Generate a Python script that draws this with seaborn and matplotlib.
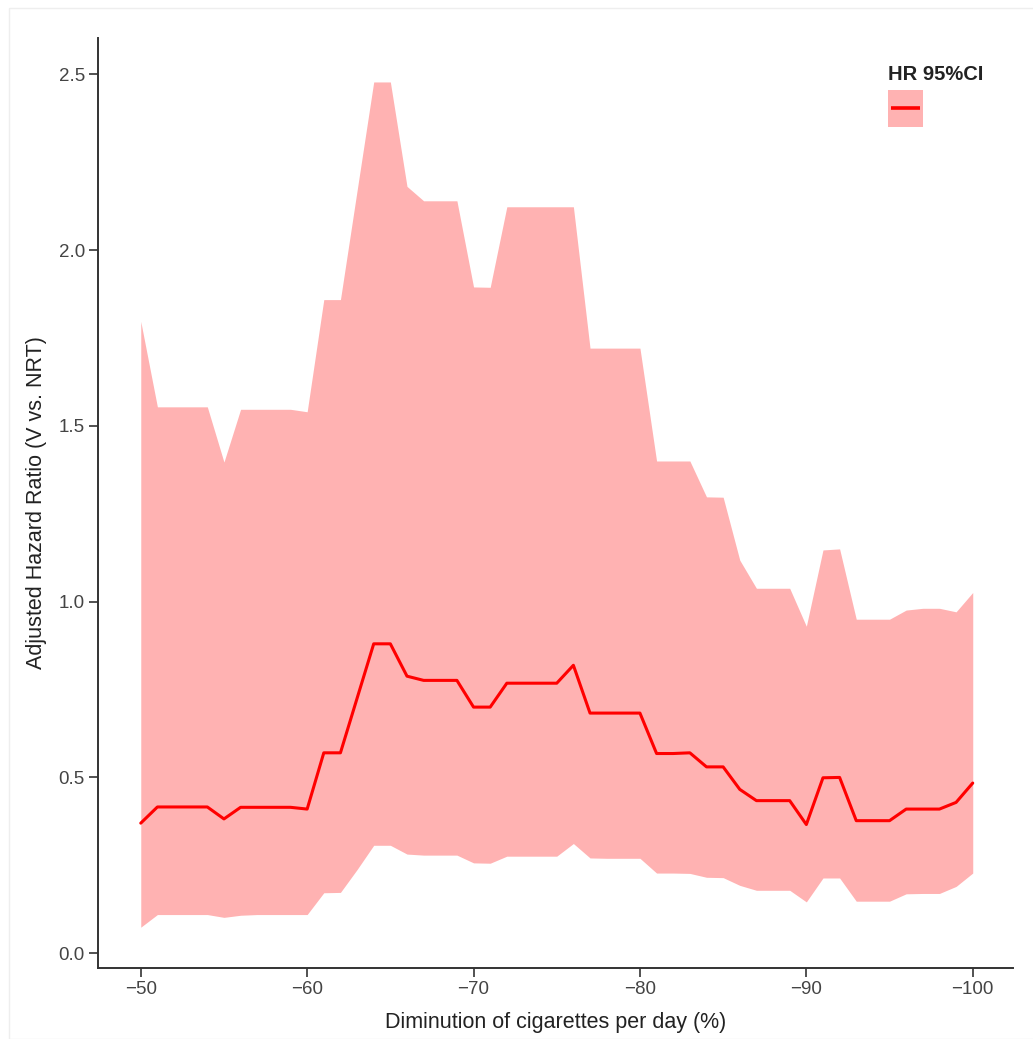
import numpy as np
import pandas as pd
import matplotlib
matplotlib.use("Agg")
import matplotlib.pyplot as plt
import seaborn as sns
from matplotlib.patches import Patch, Rectangle
from matplotlib.lines import Line2D
from matplotlib.legend_handler import HandlerBase

# ---- data ----
diminution = list(range(-50, -101, -1))
hr = [0.37, 0.416, 0.416, 0.416, 0.416, 0.382, 0.415, 0.415, 0.415, 0.415,
      0.41, 0.57, 0.57, 0.725, 0.88, 0.88, 0.788, 0.776, 0.776, 0.776,
      0.70, 0.70, 0.768, 0.768, 0.768, 0.768, 0.819, 0.683, 0.683, 0.683,
      0.683, 0.568, 0.568, 0.57, 0.53, 0.53, 0.466, 0.434, 0.434, 0.434,
      0.366, 0.499, 0.50, 0.377, 0.377, 0.377, 0.41, 0.41, 0.41, 0.429,
      0.484]
ci_low = [0.074, 0.11, 0.11, 0.11, 0.11, 0.102, 0.108, 0.11, 0.11, 0.11,
          0.11, 0.172, 0.173, 0.238, 0.307, 0.307, 0.282, 0.279, 0.279, 0.279,
          0.257, 0.256, 0.276, 0.276, 0.276, 0.276, 0.312, 0.271, 0.27, 0.27,
          0.27, 0.228, 0.228, 0.227, 0.216, 0.215, 0.193, 0.179, 0.179, 0.179,
          0.146, 0.214, 0.214, 0.148, 0.148, 0.148, 0.169, 0.17, 0.17, 0.19,
          0.228]
ci_high = [1.797, 1.554, 1.554, 1.554, 1.554, 1.397, 1.547, 1.547, 1.547, 1.547,
           1.54, 1.859, 1.859, 2.169, 2.478, 2.478, 2.181, 2.14, 2.14, 2.14,
           1.895, 1.894, 2.123, 2.123, 2.123, 2.123, 2.123, 1.721, 1.721, 1.721,
           1.721, 1.40, 1.40, 1.40, 1.298, 1.297, 1.118, 1.038, 1.038, 1.038,
           0.93, 1.147, 1.15, 0.95, 0.95, 0.95, 0.976, 0.981, 0.981, 0.971,
           1.026]
x_ticks = [-50, -60, -70, -80, -90, -100]
y_ticks = [0.0, 0.5, 1.0, 1.5, 2.0, 2.5]
x_label = "Diminution of cigarettes per day (%)"
y_label = "Adjusted Hazard Ratio (V vs. NRT)"
legend_title = "HR 95%CI"

df = pd.DataFrame({"x": diminution, "hr": hr, "lo": ci_low, "hi": ci_high})

# ---- style ----
sns.set_theme(style="white")
plt.rcParams["font.family"] = ["Liberation Sans", "DejaVu Sans"]

FILL = "#FFB2B2"
LINE = "#FF0000"
KEY_H_PT = 37 * 72 / 100.0   # key square height in points


class RibbonKey(HandlerBase):
    """Legend key: filled square with a centred line (ggplot ribbon+line key)."""

    def create_artists(self, legend, orig_handle, xdescent, ydescent, width,
                       height, fontsize, trans):
        h = KEY_H_PT
        y0 = -ydescent
        rect = Rectangle((-xdescent, y0), width, h,
                         facecolor=FILL, edgecolor="none", transform=trans)
        yc = y0 + h / 2.0
        pad = width * 0.09
        ln = Line2D([-xdescent + pad, -xdescent + width - pad], [yc, yc],
                    color=LINE, linewidth=2.6, solid_capstyle="butt",
                    transform=trans)
        return [rect, ln]


fig = plt.figure(figsize=(10.33, 10.39), dpi=100)
fig.patch.set_facecolor("white")
fig.add_artist(Rectangle((9 / 1033, 0.0), 1.0, 1 - 8 / 1039, transform=fig.transFigure,
                         fill=False, edgecolor="#EEEEEE", linewidth=1.0))
ax = fig.add_axes([98 / 1033, 1 - 968 / 1039, (1013 - 98) / 1033, (968 - 38) / 1039])

ax.fill_between(df["x"], df["lo"], df["hi"], color=FILL, linewidth=0, zorder=1)
sns.lineplot(data=df, x="x", y="hr", ax=ax, color=LINE, linewidth=2.2, zorder=2,
             legend=False)

ax.set_xlim(-47.43, -102.42)
ax.set_ylim(-0.042, 2.603)
ax.set_xticks(x_ticks)
ax.set_xticklabels([f"\u2212{abs(v)}" for v in x_ticks])
ax.set_yticks(y_ticks)
ax.set_yticklabels([f"{v:.1f}" for v in y_ticks])

for side in ["top", "right"]:
    ax.spines[side].set_visible(False)
for side in ["left", "bottom"]:
    ax.spines[side].set_color("#333333")
    ax.spines[side].set_linewidth(1.4)

ax.tick_params(axis="both", which="major", direction="out", length=6.5, width=1.2,
               color="#333333", labelsize=13.5, labelcolor="#444444", pad=3,
               bottom=True, left=True)

ax.set_xlabel(x_label, fontsize=15.5, color="#222222", labelpad=10)
ax.set_ylabel(y_label, fontsize=15.5, color="#222222", labelpad=8)

proxy = Patch(facecolor=FILL)
leg = ax.legend([proxy], [""], title=legend_title, loc="upper left",
                handler_map={Patch: RibbonKey()},
                bbox_to_anchor=((888 - 98) / 915, (968 - 65) / 930), frameon=False,
                handlelength=35 / 18.75, handleheight=3.15, borderpad=0.0,
                handletextpad=0.0, borderaxespad=0.0, labelspacing=0.0,
                fontsize=13.5)
leg.get_title().set_fontweight("bold")
leg.get_title().set_fontsize(14.5)
leg.get_title().set_color("#222222")
leg._legend_box.align = "left"

fig.savefig("out.png", dpi=100, facecolor="white")
